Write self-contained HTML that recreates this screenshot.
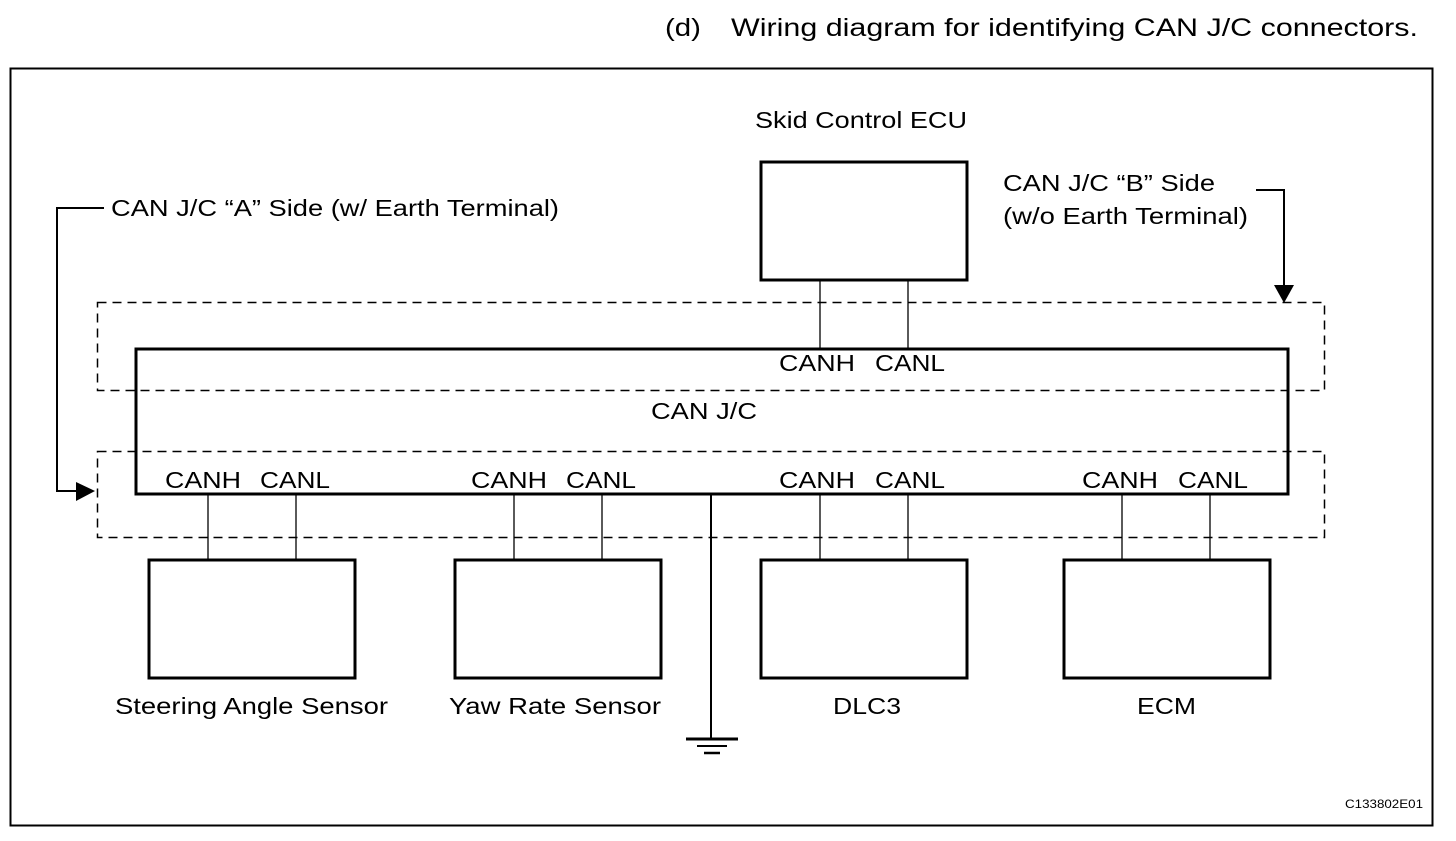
<!DOCTYPE html>
<html><head><style>
body{margin:0;background:#fff;}
svg text{font-family:"Liberation Sans",Arial,sans-serif;fill:#000;}
</style></head><body>
<svg width="1456" height="836" xmlns="http://www.w3.org/2000/svg">
<rect width="1456" height="836" fill="#fff"/>
<g font-size="25">
<text x="665" y="36" textLength="36" lengthAdjust="spacingAndGlyphs">(d)</text>
<text x="731" y="36" textLength="687" lengthAdjust="spacingAndGlyphs">Wiring diagram for identifying CAN J/C connectors.</text>
</g>
<rect x="10.5" y="68.5" width="1422" height="757" fill="none" stroke="#000" stroke-width="2"/>
<g fill="none" stroke="#000" stroke-width="1.5" stroke-dasharray="9,6">
<rect x="97.5" y="302.5" width="1227" height="88"/>
<rect x="97.5" y="451.5" width="1227" height="86"/>
</g>
<g fill="none" stroke="#000" stroke-width="3">
<rect x="136" y="349" width="1152" height="145"/>
<rect x="761" y="162" width="206" height="118"/>
<rect x="149" y="560" width="206" height="118"/>
<rect x="455" y="560" width="206" height="118"/>
<rect x="761" y="560" width="206" height="118"/>
<rect x="1064" y="560" width="206" height="118"/>
</g>
<g stroke="#000" stroke-width="1.3">
<line x1="820" y1="281" x2="820" y2="348"/><line x1="908" y1="281" x2="908" y2="348"/>
<line x1="208" y1="495" x2="208" y2="559"/><line x1="296" y1="495" x2="296" y2="559"/>
<line x1="514" y1="495" x2="514" y2="559"/><line x1="602" y1="495" x2="602" y2="559"/>
<line x1="820" y1="495" x2="820" y2="559"/><line x1="908" y1="495" x2="908" y2="559"/>
<line x1="1122" y1="495" x2="1122" y2="559"/><line x1="1210" y1="495" x2="1210" y2="559"/>
</g>
<g stroke="#000" stroke-width="2" fill="none">
<line x1="711" y1="495" x2="711" y2="739"/>
<line x1="686" y1="739" x2="738" y2="739" stroke-width="3"/>
<line x1="697" y1="746" x2="727" y2="746"/>
<line x1="704" y1="753" x2="720" y2="753" stroke-width="2.5"/>
<polyline points="104,208 57,208 57,491 80,491"/>
<polyline points="1256,190 1284,190 1284,290"/>
</g>
<polygon points="76,482 95,491 76,501" fill="#000"/>
<polygon points="1274,285 1294,285 1284,303" fill="#000"/>
<g font-size="23">
<text x="755" y="128" textLength="212" lengthAdjust="spacingAndGlyphs">Skid Control ECU</text>
<text x="1003" y="191" textLength="212" lengthAdjust="spacingAndGlyphs">CAN J/C “B” Side</text>
<text x="1003" y="224" textLength="245" lengthAdjust="spacingAndGlyphs">(w/o Earth Terminal)</text>
<text x="111" y="216" textLength="448" lengthAdjust="spacingAndGlyphs">CAN J/C “A” Side (w/ Earth Terminal)</text>
<text x="779" y="371" textLength="76" lengthAdjust="spacingAndGlyphs">CANH</text>
<text x="875" y="371" textLength="70" lengthAdjust="spacingAndGlyphs">CANL</text>
<text x="651" y="419" textLength="106" lengthAdjust="spacingAndGlyphs">CAN J/C</text>
<text x="165" y="488" textLength="76" lengthAdjust="spacingAndGlyphs">CANH</text>
<text x="260" y="488" textLength="70" lengthAdjust="spacingAndGlyphs">CANL</text>
<text x="471" y="488" textLength="76" lengthAdjust="spacingAndGlyphs">CANH</text>
<text x="566" y="488" textLength="70" lengthAdjust="spacingAndGlyphs">CANL</text>
<text x="779" y="488" textLength="76" lengthAdjust="spacingAndGlyphs">CANH</text>
<text x="875" y="488" textLength="70" lengthAdjust="spacingAndGlyphs">CANL</text>
<text x="1082" y="488" textLength="76" lengthAdjust="spacingAndGlyphs">CANH</text>
<text x="1178" y="488" textLength="70" lengthAdjust="spacingAndGlyphs">CANL</text>
<text x="115" y="714" textLength="273" lengthAdjust="spacingAndGlyphs">Steering Angle Sensor</text>
<text x="449" y="714" textLength="212" lengthAdjust="spacingAndGlyphs">Yaw Rate Sensor</text>
<text x="833" y="714" textLength="68" lengthAdjust="spacingAndGlyphs">DLC3</text>
<text x="1137" y="714" textLength="59" lengthAdjust="spacingAndGlyphs">ECM</text>
</g>
<text x="1345" y="808" font-size="12" textLength="78" lengthAdjust="spacingAndGlyphs">C133802E01</text>
</svg>
</body></html>
